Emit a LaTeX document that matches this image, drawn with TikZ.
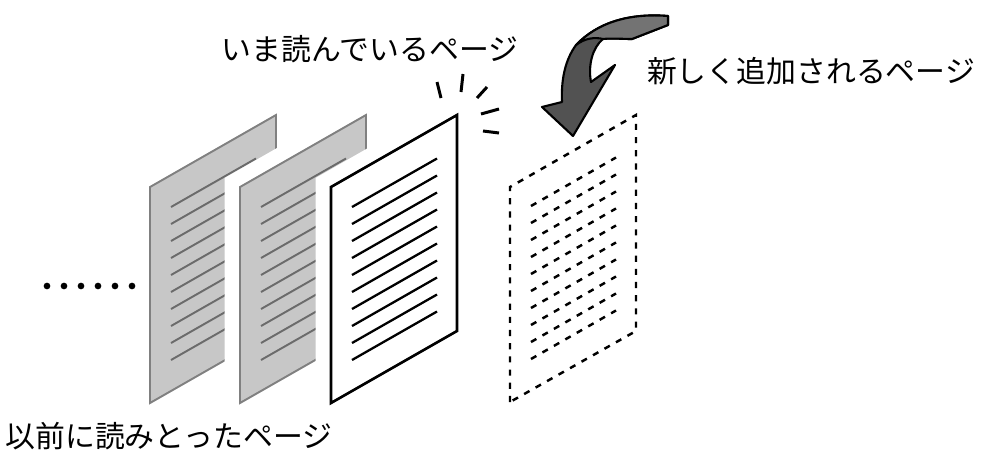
\documentclass[tikz,border=0pt]{standalone}
\usepackage{fontspec}
\newfontfamily\jpfont{Noto Sans CJK JP}
\tikzset{
  oldpage/.style={fill=black!22, draw=black!50, line width=1.1pt, line join=miter},
  oldline/.style={draw=black!58, line width=1.1pt},
  curpage/.style={fill=white, draw=black, line width=1.5pt, line join=miter},
  curline/.style={draw=black, line width=1.3pt},
  newpage/.style={draw=black, line width=1.4pt, dash pattern=on 3.5pt off 4pt},
  halo/.style={draw=white, line width=0.62cm, line join=miter},
  bendarrow/.style={fill=black!68, draw=black, line width=1.2pt, line join=round},
  spark/.style={draw=black, line width=1.7pt},
  jplabel/.style={font=\jpfont\fontsize{17pt}{20pt}\selectfont, inner sep=0pt},
}

\begin{document}
\begin{tikzpicture}[x=0.02cm, y=-0.02cm]
  \useasboundingbox (0,0) rectangle (1000,450);

  % pages already read
  \foreach \px [count=\n] in {150,240} {
    \ifnum\n>1 \draw[halo] (\px,403) -- ++(0,-216) -- ++(126,-72) -- ++(0,216) -- cycle; \fi
    \draw[oldpage] (\px,403) -- ++(0,-216) -- ++(126,-72) -- ++(0,216) -- cycle;
    \foreach \k in {0,...,9}
      \draw[oldline] (\px+21,207+17*\k) -- ++(85,-48.5);
  }

  % page being read
  \draw[halo] (331,403) -- ++(0,-216) -- ++(126,-72) -- ++(0,216) -- cycle;
  \draw[curpage] (331,403) -- ++(0,-216) -- ++(126,-72) -- ++(0,216) -- cycle;
  \foreach \k in {0,...,9}
    \draw[curline] (352,207+17*\k) -- ++(85,-48.5);

  % page to be added
  \draw[newpage] (510,402) -- ++(0,-215) -- ++(126,-72) -- ++(0,216) -- cycle;
  \foreach \k in {0,...,9}
    \draw[newpage] (531,206+17*\k) -- ++(85,-48.5);

  % sparks
  \draw[spark] (437,82) -- (441,98);
  \draw[spark] (463,74) -- (461,92);
  \draw[spark] (487,87) -- (477,98);
  \draw[spark] (481,114) -- (499,109);
  \draw[spark] (483,131) -- (499,133);

  % curled arrow: shaft and head, then the band on top
  \draw[bendarrow] (668,16) .. controls (630,13) and (598,22) .. (576,45)
    .. controls (565,60) and (561,80) .. (562,102)
    -- (542,107) -- (573,136) -- (615,65) -- (591,82)
    .. controls (588,66) and (592,48) .. (603,39)
    .. controls (612,38) and (622,39) .. (632,39)
    -- (668,25) -- cycle;
  \draw[bendarrow, fill=black!55] (668,16) .. controls (630,13) and (598,22) .. (576,45)
    .. controls (585,38) and (595,37) .. (603,39)
    .. controls (612,38) and (622,39) .. (632,39)
    -- (668,25) -- cycle;

  % dots
  \foreach \i in {0,...,5}
    \fill (47+17*\i,286) circle[radius=1.9pt];

  \node[jplabel] (cur) at (370,49) {いま読んでいるページ};
  \node[jplabel] (new) at (811,71) {新しく追加されるページ};
  \node[jplabel] (old) at (169,436) {以前に読みとったページ};
\end{tikzpicture}
\end{document}
